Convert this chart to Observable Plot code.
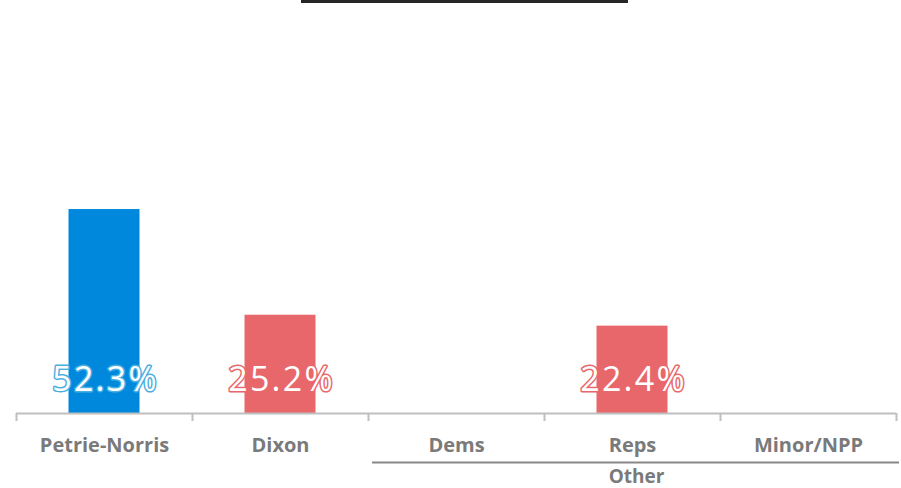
<!DOCTYPE html>
<html>
<head>
<meta charset="utf-8">
<script src="https://cdn.jsdelivr.net/npm/d3@7"></script>
<script src="https://cdn.jsdelivr.net/npm/@observablehq/plot@0.6"></script>
<style>
  html, body { margin: 0; padding: 0; background: #fff; }
  #wrap { position: relative; width: 901px; height: 488px; }
  #topbar { position: absolute; left: 301px; top: 0; width: 327px; height: 3px; background: #262626; }
</style>
</head>
<body>
<div id="wrap"><div id="topbar"></div></div>
<script>
const categories = ["Petrie-Norris", "Dixon", "Dems", "Reps", "Minor/NPP"];
const values = [52.3, 25.2, null, 22.4, null];
const labels = ["52.3%", "25.2%", "", "22.4%", ""];
const barColors = ["#0088dd", "#e8676a", "#e8676a", "#e8676a", "#e8676a"];
const labelStrokes = ["#4aaee0", "#e8676a", "#e8676a", "#e8676a", "#e8676a"];
const groupName = "Other";
const groupStart = "Dems";
const groupEnd = "Minor/NPP";

const data = categories.map((c, i) => ({cat: c, value: values[i], label: labels[i], fill: barColors[i], stroke: labelStrokes[i]}));
const bars = data.filter(d => d.value != null);

const chart = Plot.plot({
  width: 901,
  height: 488,
  marginLeft: 16,
  marginRight: 5,
  marginTop: 23,
  marginBottom: 75,
  x: {type: "band", domain: categories, padding: 0, axis: null},
  y: {domain: [0, 100], axis: null},
  style: {background: "transparent", overflow: "visible"},
  marks: [
    Plot.barY(bars, {x: "cat", y: "value", fill: d => d.fill, insetLeft: 52.5, insetRight: 52.5}),
    Plot.ruleY([0], {stroke: "#bfbfbf", strokeWidth: 2}),
    Plot.ruleX(categories, {x: d => d, y1: 0, y2: 0, insetBottom: -8, dx: -88, stroke: "#bfbfbf", strokeWidth: 2}),
    Plot.ruleX([categories[categories.length - 1]], {x: d => d, y1: 0, y2: 0, insetBottom: -8, dx: 88, stroke: "#bfbfbf", strokeWidth: 2}),
    Plot.text(bars, {x: "cat", y: 0, text: "label", dy: -33, dx: 1, fill: "white", stroke: d => d.stroke, strokeWidth: 3, paintOrder: "stroke", fontSize: 34, fontFamily: "Open Sans"}),
    Plot.text(categories, {x: d => d, y: 0, text: d => d, dy: 32, fill: "#7a7a7a", fontSize: 20, fontWeight: "bold", fontFamily: "Open Sans"}),
    Plot.ruleY([{x1: groupStart, x2: groupEnd}], {x1: "x1", x2: "x2", y: 0, dy: 49, insetLeft: 4, insetRight: -3, stroke: "#888888", strokeWidth: 2}),
    Plot.text([groupName], {x: () => "Reps", y: 0, text: d => d, dy: 63, dx: 4, fill: "#7a7a7a", fontSize: 19, fontWeight: "bold", fontFamily: "Open Sans"})
  ]
});
d3.select(chart).selectAll("g[aria-label='text']").filter(function() { return this.getAttribute("font-size") === "34"; }).style("letter-spacing", "2.2px");
document.getElementById("wrap").appendChild(chart);
</script>
</body>
</html>
